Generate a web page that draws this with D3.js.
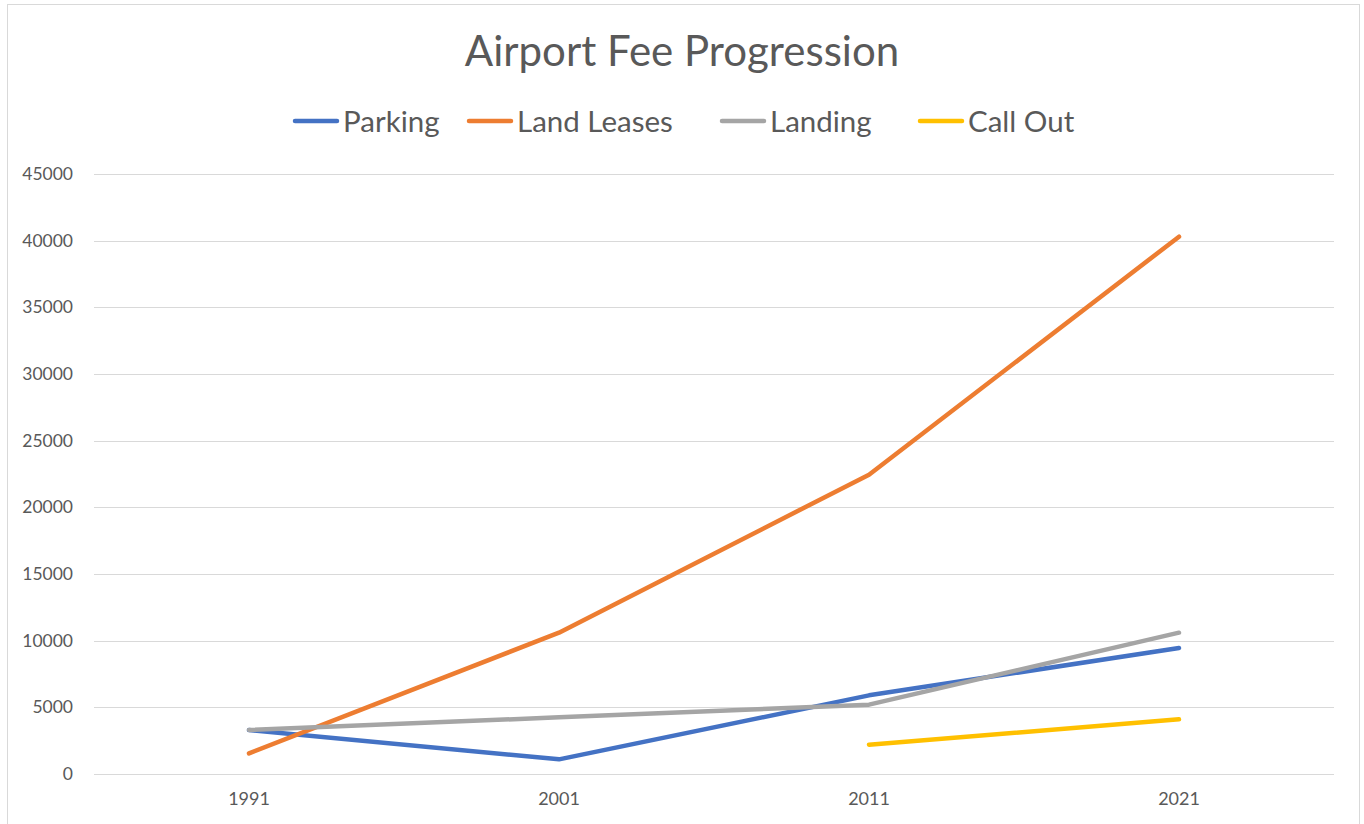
<!DOCTYPE html>
<html>
<head>
<meta charset="utf-8">
<script src="https://cdn.jsdelivr.net/npm/d3@7"></script>
<style>
  body { margin: 0; background: #fff; }
  text { font-family: "Lato", "Open Sans", sans-serif; fill: #595959; }
</style>
</head>
<body>
<svg id="chart" width="1364" height="824"></svg>
<script>
const years = ["1991", "2001", "2011", "2021"];
const seriesNames = ["Parking", "Land Leases", "Landing", "Call Out"];
const parking = [3300, 1100, 5900, 9450];
const landLeases = [1550, 10600, 22450, 40300];
const landing = [3300, 4250, 5200, 10600];
const callOut = [null, null, 2200, 4100];
const yTicks = [0, 5000, 10000, 15000, 20000, 25000, 30000, 35000, 40000, 45000];
const colors = ["#4472C4", "#ED7D31", "#A5A5A5", "#FFC000"];

const series = [parking, landLeases, landing, callOut].map((values, i) => ({
  name: seriesNames[i],
  color: colors[i],
  values: values
}));

const svg = d3.select("#chart");
const margin = { left: 94, right: 30, top: 174, bottom: 50 };
const W = 1364, H = 824;

// chart border
svg.append("rect")
  .attr("x", 7.5).attr("y", 4.5)
  .attr("width", 1352).attr("height", 830)
  .attr("fill", "none")
  .attr("stroke", "#D9D9D9");

const x = d3.scaleBand()
  .domain(years)
  .range([margin.left, W - margin.right])
  .padding(0);

const y = d3.scaleLinear()
  .domain([0, 45000])
  .range([H - margin.bottom, margin.top]);

// gridlines
svg.append("g")
  .selectAll("line")
  .data(yTicks)
  .enter()
  .append("line")
  .attr("x1", margin.left)
  .attr("x2", W - margin.right)
  .attr("y1", d => Math.round(y(d)) + 0.5)
  .attr("y2", d => Math.round(y(d)) + 0.5)
  .attr("stroke", "#D9D9D9")
  .attr("stroke-width", 1);

// y axis labels
const yAxis = svg.append("g")
  .attr("transform", `translate(${margin.left - 21},0)`)
  .call(d3.axisLeft(y).tickValues(yTicks).tickSize(0).tickPadding(0).tickFormat(d3.format("d")));
yAxis.select(".domain").remove();
yAxis.selectAll("text")
  .attr("font-size", 17.5)
  .style("font-family", "Lato, sans-serif")
  .attr("fill", "#595959");

// x axis labels
const xAxis = svg.append("g")
  .attr("transform", `translate(0,${H - margin.bottom})`)
  .call(d3.axisBottom(x).tickSize(0).tickPadding(18));
xAxis.select(".domain").remove();
xAxis.selectAll("text")
  .attr("font-size", 18)
  .style("font-family", "Lato, sans-serif")
  .attr("fill", "#595959");

// lines
const line = d3.line()
  .defined(d => d.v !== null)
  .x(d => x(d.year) + x.bandwidth() / 2)
  .y(d => y(d.v));

svg.append("g")
  .selectAll("path")
  .data(series)
  .enter()
  .append("path")
  .attr("d", s => line(s.values.map((v, i) => ({ year: years[i], v: v }))))
  .attr("fill", "none")
  .attr("stroke", s => s.color)
  .attr("stroke-width", 4.5)
  .attr("stroke-linecap", "round")
  .attr("stroke-linejoin", "round");

// title
svg.append("text")
  .attr("x", 682)
  .attr("y", 66)
  .attr("text-anchor", "middle")
  .attr("font-size", 42)
  .text("Airport Fee Progression");

// legend (item start positions as in the original)
const legendX = [293, 467, 720, 918];
const items = svg.append("g")
  .selectAll("g")
  .data(series)
  .enter()
  .append("g")
  .attr("transform", (d, i) => `translate(${legendX[i]},121)`);

items.append("line")
  .attr("x1", 2).attr("x2", 44)
  .attr("y1", 0).attr("y2", 0)
  .attr("stroke", d => d.color)
  .attr("stroke-width", 4.5)
  .attr("stroke-linecap", "round");

items.append("text")
  .attr("x", 50)
  .attr("y", 10.5)
  .attr("font-size", 29.5)
  .text(d => d.name);
</script>
</body>
</html>
